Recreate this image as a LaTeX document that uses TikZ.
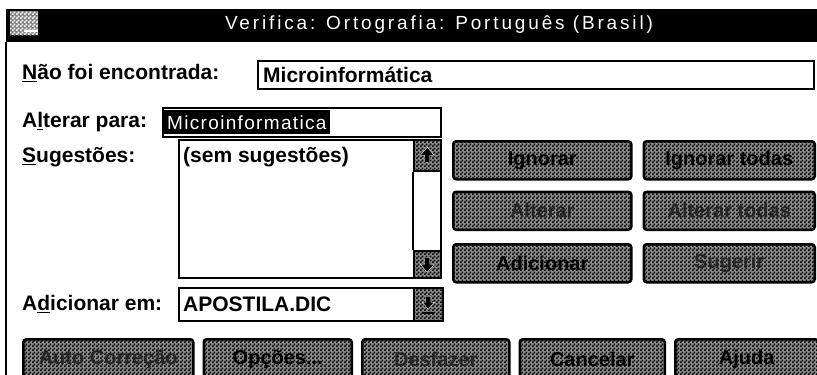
\documentclass[tikz,border=0pt]{standalone}
\usepackage{fontspec}
\setmainfont{Liberation Sans}
\newfontfamily\sysfont[LetterSpace=15]{Liberation Sans}
\newfontfamily\selfont[LetterSpace=7]{Liberation Sans}
\usetikzlibrary{positioning,patterns}

% fine dither for the grey surfaces
\pgfdeclarepatternformonly{dither}{\pgfpointorigin}{\pgfqpoint{4pt}{4pt}}{\pgfqpoint{4pt}{4pt}}{
  \pgfpathrectangle{\pgfpointorigin}{\pgfqpoint{2pt}{2pt}}
  \pgfpathrectangle{\pgfqpoint{2pt}{2pt}}{\pgfqpoint{2pt}{2pt}}
  \pgfusepath{fill}}

\begin{document}
\begin{tikzpicture}[
    x=1pt, y=-1pt,
    node distance=10pt,
    font=\fontsize{21}{23}\selectfont\bfseries,
    lbl/.style={anchor=west, inner sep=0pt},
    field/.style={rectangle, draw=black, line width=1.5pt, fill=white,
      anchor=north west, inner sep=0pt},
    grey/.style={preaction={fill=black!45}, pattern=dither,
      pattern color=black},
    btn/.style={rectangle, grey, draw=black, line width=2.5pt,
      rounded corners=3pt, minimum height=38pt, inner sep=0pt,
      font=\fontsize{20}{22}\selectfont\bfseries},
    off/.style={btn, text=black!85},
    arrowbox/.style={rectangle, grey, draw=black, line width=1.5pt,
      anchor=north west, minimum width=27pt, inner sep=0pt}
  ]

  \useasboundingbox[fill=white] (0,0) rectangle (817,375);

  % title bar

  \node (titlebar) [fill=black, anchor=north west, minimum width=811,
                    minimum height=33, inner sep=0pt] at (6,9) {};
  \node (sysmenu)  [rectangle, preaction={fill=black!50}, pattern=dither,
                    pattern color=white, anchor=north west, minimum width=28,
                    minimum height=24, inner sep=0pt] at (10,11) {};
  \node (title)    [text=white, font=\sysfont\fontsize{19}{21}\selectfont]
                   at (439,25) {Verifica: Ortografia: Português (Brasil)};
  \draw[white, line width=2pt] ([xshift=-14pt, yshift=4pt]sysmenu.south east)
                               -- ([yshift=4pt]sysmenu.south east);

  \draw[line width=2pt] (titlebar.south west) -- ++(0,340);

  % fields on the left

  \node (foundlbl)  [lbl]                        at (22,73)  {\underline{N}ão foi encontrada:};
  \node (found)     [field, minimum width=556, minimum height=28] at (257,60) {};
  \node (foundtxt)  [lbl, right=6pt of found.west]           {Microinformática};

  \node (changelbl) [lbl]                        at (22,122) {A\underline{l}terar para:};
  \node (change)    [field, minimum width=278, minimum height=29] at (162,107) {};
  \node (changesel) [right=2pt of change.west, fill=black, text=white,
                     inner xsep=3pt, minimum height=24,
                     font=\selfont\fontsize{19}{21}\selectfont] {Microinformatica};

  \node (sugglbl)   [lbl]                        at (22,157) {\underline{S}ugestões:};
  \node (sugg)      [field, minimum width=262, minimum height=138] at (178,139) {};
  \node (suggtxt)   [lbl]                        at (183,157) {(sem sugestões)};
  \node (up)        [arrowbox, minimum height=31] at (413,139) {};
  \node (down)      [arrowbox, minimum height=27] at (413,250) {};
  \draw[line width=1.5pt] (up.south west) -- (down.north west);

  \node (addlbl)    [lbl]                        at (22,304) {A\underline{d}icionar em:};
  \node (dict)      [field, minimum width=235, minimum height=33] at (178,287) {};
  \node (dicttxt)   [lbl, right=5pt of dict.west]            {APOSTILA.DIC};
  \node (drop)      [arrowbox, minimum width=29, minimum height=33] at (413,287) {};

  % arrows in the scroll boxes
  \fill[black, draw=white, shift={(up.center)}]
    (0,-8) -- (7,0) -- (2.5,0) -- (2.5,7) -- (-2.5,7) -- (-2.5,0) -- (-7,0) -- cycle;
  \fill[black, draw=white, shift={(down.center)}]
    (0,8) -- (7,0) -- (2.5,0) -- (2.5,-7) -- (-2.5,-7) -- (-2.5,0) -- (-7,0) -- cycle;
  \fill[black, draw=white, shift={(drop.center)}]
    (0,5) -- (6,-2) -- (2.5,-2) -- (2.5,-8) -- (-2.5,-8) -- (-2.5,-2) -- (-6,-2) -- cycle;
  \fill[black, shift={(drop.center)}] (-6,8) rectangle (6,10);

  % buttons on the right

  \node (ignore)    [btn, anchor=north west, minimum width=178] at (452,140) {Ignorar};
  \node (ignoreall) [btn, minimum width=171, right=of ignore]     {Ignorar todas};
  \node (alter)     [off, minimum width=178, below=of ignore]     {Alterar};
  \node (alterall)  [off, minimum width=171, right=of alter]      {Alterar todas};
  \node (addword)   [btn, minimum width=178, below=12pt of alter] {Adicionar};
  \node (suggest)   [off, minimum width=171, right=of addword]    {Sugerir};

  % buttons at the bottom

  \node (autocorr)  [off, anchor=north west, minimum width=170,
                     minimum height=40] at (22,338)                 {Auto Correção};
  \node (options)   [btn, minimum width=148, minimum height=40,
                     right=8pt of autocorr]                         {Opções...};
  \node (undo)      [off, minimum width=147, minimum height=40,
                     right=8pt of options]                          {Desfazer};
  \node (cancel)    [btn, minimum width=145, minimum height=40,
                     right=8pt of undo]                             {Cancelar};
  \node (help)      [btn, minimum width=143, minimum height=40,
                     right=8pt of cancel]                           {Ajuda};

\end{tikzpicture}
\end{document}
